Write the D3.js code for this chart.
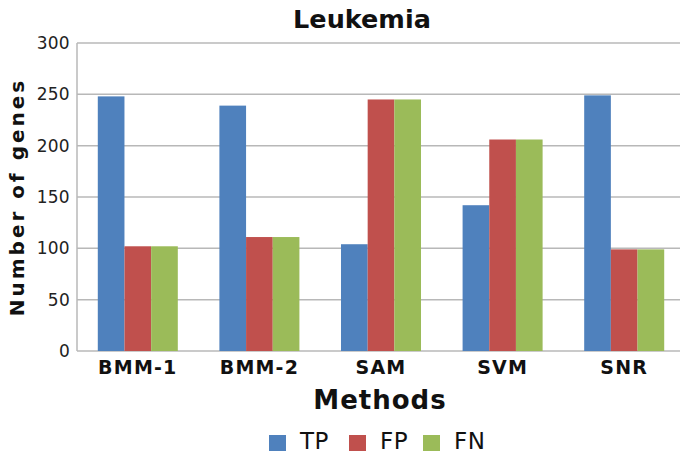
<!DOCTYPE html>
<html><head><meta charset="utf-8">
<script src="https://cdn.jsdelivr.net/npm/d3@7"></script>
<style>body{margin:0;background:#fff}svg{display:block}text{font-family:"DejaVu Sans",Verdana,sans-serif}</style>
</head><body>
<script>
const categories = ["BMM-1","BMM-2","SAM","SVM","SNR"];
const seriesNames = ["TP","FP","FN"];
const TP = [248,239,104,142,249];
const FP = [102,111,245,206,99];
const FN = [102,111,245,206,99];
const yTicks = [0,50,100,150,200,250,300];
const colors = ["#4f81bd","#c0504d","#9bbb59"];
const series = [TP,FP,FN];

(function(){
const W=680,H=454;
const svg=d3.select("body").append("svg").attr("width",W).attr("height",H);
const pLeft=77,pRight=685,pTop=43,pBottom=351;
const x=d3.scaleBand().domain(categories).range([pLeft,pRight]).paddingInner(0.342).paddingOuter(0.171);
const xs=d3.scaleBand().domain(seriesNames).range([0,x.bandwidth()]);
const y=d3.scaleLinear().domain([0,300]).range([pBottom,pTop]);

svg.append("g").selectAll("line").data(yTicks).join("line")
 .attr("x1",pLeft).attr("x2",W).attr("y1",d=>y(d)).attr("y2",d=>y(d))
 .attr("stroke","#b8b8b8").attr("stroke-width",1.5);
svg.append("line").attr("x1",pLeft).attr("x2",pLeft).attr("y1",pTop).attr("y2",pBottom).attr("stroke","#b8b8b8").attr("stroke-width",1.5);

const g=svg.append("g");
series.forEach((vals,si)=>{
 g.selectAll(null).data(categories).join("rect")
  .attr("x",c=>x(c)+xs(seriesNames[si]))
  .attr("width",xs.bandwidth())
  .attr("y",(c,i)=>y(vals[i]))
  .attr("height",(c,i)=>y(0)-y(vals[i]))
  .attr("fill",colors[si]);
});

const yAxis=d3.axisLeft(y).tickValues(yTicks).tickSize(0).tickPadding(7);
const ya=svg.append("g").attr("transform",`translate(${pLeft},0)`).call(yAxis);
ya.select(".domain").remove();
ya.selectAll("text").attr("font-size",17).attr("letter-spacing",0.3).attr("fill","#222").style("font-family","'DejaVu Sans',sans-serif");

const xAxis=d3.axisBottom(x).tickSize(0).tickPadding(10);
const xa=svg.append("g").attr("transform",`translate(0,${pBottom})`).call(xAxis);
xa.select(".domain").remove();
xa.selectAll("text").attr("font-size",19).attr("font-weight","bold").attr("letter-spacing",1.2).attr("fill","#111").style("font-family","'DejaVu Sans',sans-serif");

svg.append("text").attr("x",362).attr("y",28).attr("text-anchor","middle")
 .attr("font-size",25.5).attr("font-weight","bold").attr("fill","#111").text("Leukemia");
svg.append("text").attr("x",380).attr("y",409).attr("text-anchor","middle")
 .attr("font-size",26).attr("font-weight","bold").attr("letter-spacing",1).attr("fill","#111").text("Methods");
svg.append("text").attr("transform","translate(24,197) rotate(-90)").attr("text-anchor","middle")
 .attr("font-size",20).attr("font-weight","bold").attr("letter-spacing",3).attr("fill","#111").text("Number of genes");

const legX=[269,349,423];
const lg=svg.append("g");
seriesNames.forEach((n,i)=>{
 lg.append("rect").attr("x",legX[i]).attr("y",435).attr("width",17).attr("height",16).attr("fill",colors[i]);
 lg.append("text").attr("x",legX[i]+31).attr("y",449).attr("font-size",23).attr("letter-spacing",0.5).attr("fill","#111").text(n);
});
})();
</script>
</body></html>
